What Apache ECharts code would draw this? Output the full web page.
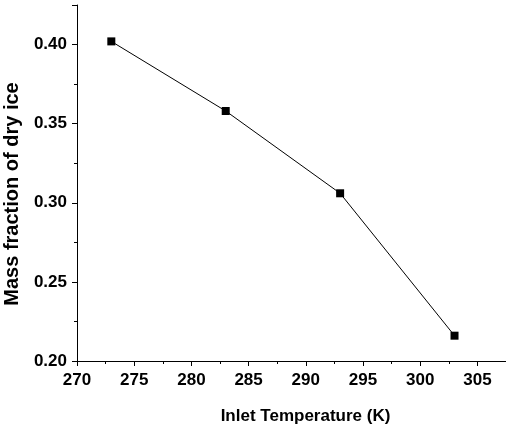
<!DOCTYPE html>
<html>
<head>
<meta charset="utf-8">
<script src="https://cdn.jsdelivr.net/npm/echarts@6/dist/echarts.min.js"></script>
<style>
  html, body { margin: 0; padding: 0; background: #fff; }
  #chart { width: 506px; height: 424px; }
</style>
</head>
<body>
<div id="chart"></div>
<script>
var temps = [273, 283, 293, 303];
var massFraction = [0.402, 0.358, 0.306, 0.216];

var chart = echarts.init(document.getElementById('chart'));
var font = 'Liberation Sans, Arial, sans-serif';

var option = {
  animation: false,
  grid: { left: 77, right: 0, top: 5, bottom: 63, containLabel: false, outerBoundsMode: 'none' },
  xAxis: {
    type: 'value',
    min: 270,
    max: 307.5,
    interval: 5,
    name: 'Inlet Temperature (K)',
    nameLocation: 'middle',
    nameGap: 47,
    nameTextStyle: { color: '#000', fontFamily: font, fontWeight: 'bold', fontSize: 17, padding: [0, 0, 0, 28] },
    axisLine: { show: true, lineStyle: { color: '#000', width: 1 } },
    axisTick: { show: true, inside: false, length: 5, lineStyle: { color: '#000' } },
    minorTick: { show: true, splitNumber: 2, length: 3, lineStyle: { color: '#000' } },
    axisLabel: {
      color: '#000', fontFamily: font, fontWeight: 'bold', fontSize: 17, margin: 11,
      showMaxLabel: false
    },
    splitLine: { show: false }
  },
  yAxis: {
    type: 'value',
    min: 0.2,
    max: 0.425,
    interval: 0.05,
    name: 'Mass fraction of dry ice',
    nameLocation: 'middle',
    nameGap: 55,
    nameTextStyle: { color: '#000', fontFamily: font, fontWeight: 'bold', fontSize: 20, padding: [0, 22, 0, 0] },
    axisLine: { show: true, lineStyle: { color: '#000', width: 1 } },
    axisTick: { show: true, inside: false, length: 5, lineStyle: { color: '#000' } },
    minorTick: { show: true, splitNumber: 2, length: 3, lineStyle: { color: '#000' } },
    axisLabel: {
      color: '#000', fontFamily: font, fontWeight: 'bold', fontSize: 17, margin: 10,
      showMaxLabel: false,
      formatter: function (v) { return v.toFixed(2); }
    },
    splitLine: { show: false }
  },
  series: [{
    type: 'line',
    data: temps.map(function (t, i) { return [t, massFraction[i]]; }),
    symbol: 'rect',
    symbolSize: 8,
    itemStyle: { color: '#000' },
    lineStyle: { color: '#000', width: 1 }
  }]
};

chart.setOption(option);
</script>
</body>
</html>
